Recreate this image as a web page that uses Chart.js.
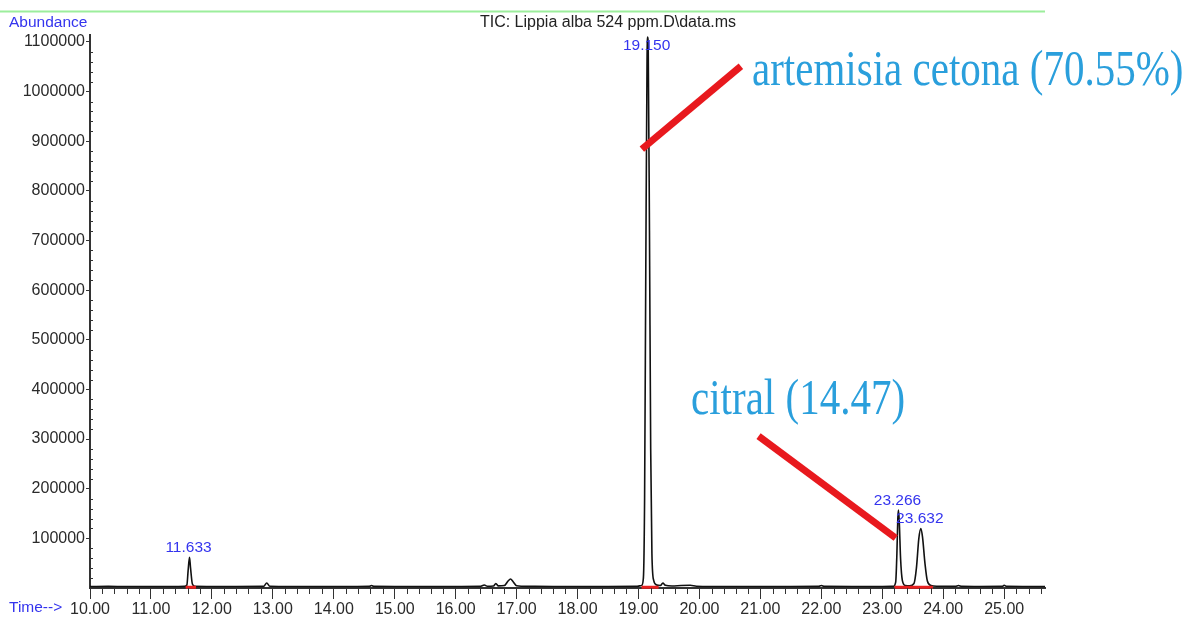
<!DOCTYPE html>
<html>
<head>
<meta charset="utf-8">
<title>TIC: Lippia alba 524 ppm</title>
<script src="https://cdn.jsdelivr.net/npm/chart.js@4.4.1/dist/chart.umd.min.js"></script>
<style>
  html, body { margin: 0; padding: 0; background: #ffffff; }
  #tic { display: block; }
</style>
</head>
<body>
<canvas id="tic" width="1187" height="619"></canvas>
<script>
// Total ion chromatogram: retention time (min) and abundance
const retentionTime = [
  10.00, 10.30, 10.60, 11.00, 11.30, 11.55, 11.59, 11.61, 11.633, 11.65, 11.68, 11.72,
  12.00, 12.40, 12.85, 12.90, 12.95, 13.30, 13.80, 14.30, 14.58, 14.62, 14.66,
  15.00, 15.50, 16.00, 16.40, 16.47, 16.52, 16.62, 16.66, 16.70, 16.80, 16.86, 16.90, 16.94,
  17.00, 17.20, 17.60, 18.00, 18.50, 18.95, 19.05, 19.08, 19.10, 19.12, 19.14, 19.150,
  19.16, 19.18, 19.20, 19.22, 19.25, 19.30, 19.36, 19.40, 19.44, 19.55, 19.70, 19.85, 19.95,
  20.20, 20.60, 21.00, 21.50, 21.95, 22.00, 22.05, 22.50, 23.00, 23.18, 23.22, 23.24,
  23.255, 23.266, 23.28, 23.30, 23.33, 23.38, 23.45, 23.52, 23.56, 23.60, 23.632, 23.66,
  23.70, 23.74, 23.80, 23.90, 24.20, 24.25, 24.30, 24.60, 24.97, 25.00, 25.04, 25.30, 25.67
];
const abundance = [
  3000, 3200, 2900, 3100, 3000, 3200, 6000, 35000, 62000, 40000, 8000, 3300,
  3000, 3100, 3300, 10000, 3500, 3000, 3100, 3000, 3300, 5000, 3200,
  3000, 3100, 3000, 3200, 6000, 3500, 4000, 9000, 4200, 5000, 14000, 18000, 13000,
  4500, 3300, 3000, 3000, 3100, 3200, 5000, 20000, 180000, 650000, 1060000, 1110000,
  1080000, 720000, 280000, 70000, 15000, 6000, 5000, 10000, 5500, 4000, 5000, 5500, 3500,
  3000, 3100, 3000, 3100, 3200, 5000, 3200, 3000, 3100, 3300, 12000, 70000,
  140000, 157000, 130000, 60000, 15000, 5000, 4500, 9000, 40000, 100000, 120000, 103000,
  50000, 14000, 5000, 3500, 3300, 5000, 3300, 3000, 3200, 5500, 3200, 3000, 3000
];

// Labelled peaks (retention times printed above the apex)
const peakTimes = [11.633, 19.150, 23.266, 23.632];

// Integration baselines under the labelled peaks
const integStart = [11.57, 19.05, 23.20];
const integEnd   = [11.74, 19.33, 23.83];
const integLevel = 1500;

// Leader lines from the compound names to their peaks
const leaderFrom = [[19.055, 884000], [20.97, 306000]];
const leaderTo   = [[20.68, 1051000], [23.22, 100700]];
const compoundNames = ['artemisia cetona (70.55%)', 'citral (14.47)'];

// Axis ranges and tick labels
const timeMin = 10.00, timeMax = 25.67;
const abundanceMax = 1114000;
const timeTicks = [10, 11, 12, 13, 14, 15, 16, 17, 18, 19, 20, 21, 22, 23, 24, 25];
const abundanceTicks = [100000, 200000, 300000, 400000, 500000, 600000, 700000, 800000, 900000, 1000000, 1100000];

const SANS = '"Liberation Sans", Arial, sans-serif';
const SERIF = '"Liberation Serif", "Times New Roman", serif';
const LABEL_BLUE = '#3434ee';
const NOTE_BLUE = '#2a9fdc';
const LEADER_RED = '#e8191e';

const ticData = retentionTime.map((t, i) => ({ x: t, y: abundance[i] }));

const integData = [];
integStart.forEach((s, i) => {
  integData.push({ x: s, y: integLevel }, { x: integEnd[i], y: integLevel });
  if (i < integStart.length - 1) integData.push({ x: (integEnd[i] + integStart[i + 1]) / 2, y: null });
});

const leaderSets = leaderFrom.map((p, i) => ({
  label: 'leader ' + (i + 1),
  data: [{ x: p[0], y: p[1] }, { x: leaderTo[i][0], y: leaderTo[i][1] }],
  borderColor: LEADER_RED,
  borderWidth: 7,
  borderCapStyle: 'butt',
  pointRadius: 0,
  clip: false
}));

// Page furniture: header rule, axis captions, title, peak labels, minor ticks, compound names
const decorations = {
  id: 'decorations',
  beforeDraw(chart) {
    const { ctx, chartArea } = chart;
    ctx.save();
    ctx.fillStyle = '#ffffff';
    ctx.fillRect(0, 0, chart.width, chart.height);
    ctx.strokeStyle = '#9cee9c';
    ctx.lineWidth = 2;
    ctx.beginPath();
    ctx.moveTo(0, 11.5);
    ctx.lineTo(chartArea.right, 11.5);
    ctx.stroke();

    ctx.font = '15.5px ' + SANS;
    ctx.textBaseline = 'middle';
    ctx.fillStyle = LABEL_BLUE;
    ctx.textAlign = 'left';
    ctx.fillText('Abundance', 9, 23);
    ctx.fillText('Time-->', 9, 608);

    ctx.fillStyle = '#222222';
    ctx.textAlign = 'center';
    ctx.font = '16px ' + SANS;
    ctx.fillText('TIC: Lippia alba 524 ppm.D\\data.ms', 608, 23);
    ctx.restore();
  },
  afterDraw(chart) {
    const { ctx, chartArea } = chart;
    const xs = chart.scales.x, ys = chart.scales.y;
    ctx.save();
    ctx.strokeStyle = '#333333';
    ctx.lineWidth = 1;
    // minor ticks, 0.2 min on time, 20000 on abundance
    ctx.beginPath();
    for (let i = 0; i <= 5 * (timeMax - timeMin); i++) {
      if (i % 5 === 0) continue;
      const px = Math.round(xs.getPixelForValue(timeMin + i * 0.2)) + 0.5;
      ctx.moveTo(px, chartArea.bottom);
      ctx.lineTo(px, chartArea.bottom + 6);
    }
    for (let i = 1; i * 20000 < abundanceMax; i++) {
      if (i % 5 === 0) continue;
      const py = Math.round(ys.getPixelForValue(i * 20000)) + 0.5;
      ctx.moveTo(chartArea.left - 1, py);
      ctx.lineTo(chartArea.left + 3, py);
    }
    ctx.stroke();

    // retention time labels above the labelled peaks
    ctx.font = '15.5px ' + SANS;
    ctx.fillStyle = LABEL_BLUE;
    ctx.textAlign = 'center';
    ctx.textBaseline = 'bottom';
    peakTimes.forEach(t => {
      const idx = retentionTime.indexOf(t);
      const px = xs.getPixelForValue(t);
      const py = ys.getPixelForValue(abundance[idx]);
      ctx.fillText(t.toFixed(3), px - 1, Math.max(py - 2, chartArea.top + 18));
    });

    // compound names, set in a tall serif face
    const notes = [[752, 85], [691, 414]];
    ctx.fillStyle = NOTE_BLUE;
    ctx.textAlign = 'left';
    ctx.textBaseline = 'alphabetic';
    ctx.font = '41px ' + SERIF;
    compoundNames.forEach((name, i) => {
      ctx.save();
      ctx.translate(notes[i][0], notes[i][1]);
      ctx.scale(1, 1.22);
      ctx.fillText(name, 0, 0);
      ctx.restore();
    });
    ctx.restore();
  }
};

new Chart(document.getElementById('tic'), {
  type: 'line',
  data: {
    datasets: [
      ...leaderSets,
      {
        label: 'integration',
        data: integData,
        borderColor: '#e82020',
        borderWidth: 3,
        pointRadius: 0,
        spanGaps: false,
        clip: false
      },
      {
        label: 'TIC',
        data: ticData,
        borderColor: '#111111',
        borderWidth: 1.6,
        pointRadius: 0,
        cubicInterpolationMode: 'monotone',
        clip: false
      }
    ]
  },
  options: {
    responsive: false,
    animation: false,
    devicePixelRatio: 1,
    layout: { padding: { top: 35, right: 142, bottom: 0, left: 0 } },
    plugins: {
      legend: { display: false },
      tooltip: { enabled: false },
      title: { display: false }
    },
    scales: {
      x: {
        type: 'linear',
        min: timeMin,
        max: timeMax,
        afterBuildTicks(scale) { scale.ticks = timeTicks.map(v => ({ value: v })); },
        afterFit(scale) { scale.height = 31; },
        border: { display: true, color: '#333333', width: 2 },
        grid: { drawOnChartArea: false, drawTicks: true, tickLength: 11, color: '#333333', tickWidth: 1 },
        ticks: {
          color: '#2a2a2a',
          padding: 1,
          maxRotation: 0,
          autoSkip: false,
          font: { family: SANS, size: 16 },
          callback: v => Number(v).toFixed(2)
        }
      },
      y: {
        type: 'linear',
        min: 0,
        max: abundanceMax,
        afterBuildTicks(scale) { scale.ticks = abundanceTicks.map(v => ({ value: v })); },
        afterFit(scale) { scale.width = 90; },
        border: { display: true, color: '#333333', width: 2 },
        grid: { drawOnChartArea: false, drawTicks: true, tickLength: 4, color: '#333333', tickWidth: 1 },
        ticks: {
          color: '#2a2a2a',
          padding: 1,
          autoSkip: false,
          font: { family: SANS, size: 16 },
          callback: v => String(v)
        }
      }
    }
  },
  plugins: [decorations]
});
</script>
</body>
</html>
